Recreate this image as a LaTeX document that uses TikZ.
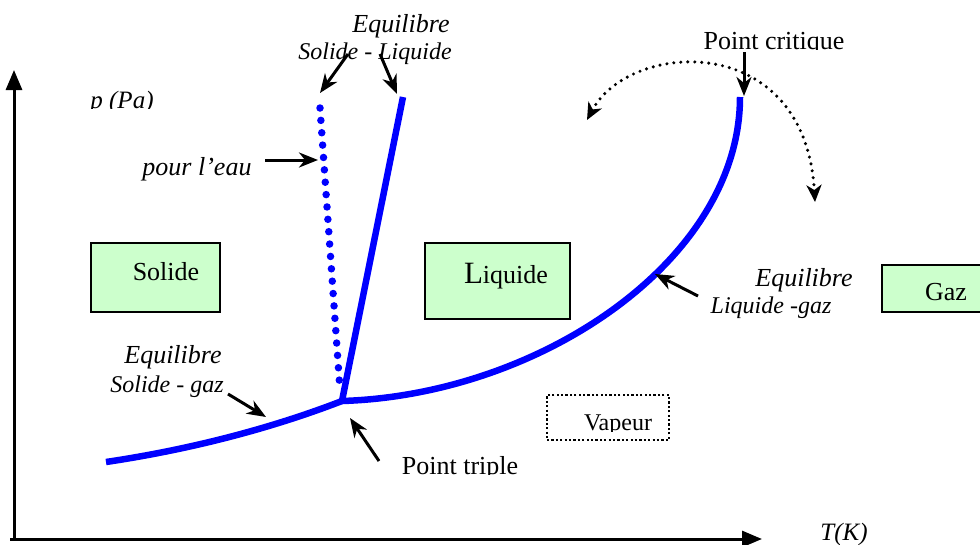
\documentclass[tikz,border=0pt]{standalone}
\usepackage{fontspec}
\setmainfont{Liberation Serif}
\usetikzlibrary{arrows.meta}
\definecolor{phasegreen}{HTML}{CCFFCC}
\definecolor{curveblue}{HTML}{0000FF}
\begin{document}
\begin{tikzpicture}[x=1pt,y=-1pt,
  phase/.style={draw, line width=2.4pt, fill=phasegreen, inner sep=0pt},
  lbl/.style={anchor=base, inner sep=0pt, font=\fontsize{26}{30}\selectfont},
  ilbl/.style={anchor=base, inner sep=0pt, font=\fontsize{26}{30}\selectfont\itshape},
  islbl/.style={anchor=base, inner sep=0pt, font=\fontsize{24}{28}\selectfont\itshape},
  curve/.style={draw=curveblue, line width=6.5pt},
  pointer/.style={-{Stealth[length=19pt,width=15pt,inset=6pt]}, line width=3pt},
  axis/.style={-{Triangle[length=20pt,width=16pt]}, line width=3pt},
  dotarc/.style={line width=3.4pt, line cap=round, dash pattern=on 0pt off 7pt},
]
\useasboundingbox (0,0) rectangle (980,544);
\clip (0,0) rectangle (980,544);

% axes
\coordinate (O) at (14,539);
\coordinate (Ytop) at (14,70);
\coordinate (Xend) at (762,539);
\draw[axis] (O) -- (Ytop);
\draw[axis] (10,539) -- (Xend);

% phase boxes
\node[phase, minimum width=129pt, minimum height=69pt] (solbox) at (155.5,277.5) {};
\node[lbl] (sol) at (166,280) {Solide};
\node[phase, minimum width=145pt, minimum height=76pt] (liqbox) at (497.5,281) {};
\node[lbl] (liq) at (506,283) {{\fontsize{31}{34}\selectfont L}iquide};
\node[phase, minimum width=130pt, minimum height=47pt] (gazbox) at (947,288.5) {};
\node[lbl] (gaz) at (946,300) {Gaz};
\node[draw, line width=2.4pt, dash pattern=on 2.2pt off 2.2pt, minimum width=122pt, minimum height=45pt] (vapbox) at (608,417.5) {};
\begin{scope}
  \clip (540,380) rectangle (680,431);
  \node[lbl, font=\fontsize{24}{28}\selectfont] (vap) at (618,430) {Vapeur};
\end{scope}

% key points
\coordinate (T) at (342,401);
\coordinate (C) at (740,97);
\coordinate (SGstart) at (106,462);
\coordinate (SLtop) at (403,97);
\coordinate (Wtop) at (320,108);
\coordinate (Wbot) at (340,390);

% curves
\draw[curve] (SGstart) .. controls (200,448) and (280,425) .. (T);
\draw[curve] (T) .. controls (540,395) and (740,260) .. (C);
\draw[curve] (T) -- (SLtop);
\draw[draw=curveblue, line width=7.5pt, line cap=round, dash pattern=on 0pt off 12.4pt] (Wtop) -- (Wbot);

% labels
\node[ilbl] (eqsl1) at (401,32) {Equilibre};
\node[islbl] (eqsl2) at (375,59) {Solide - Liquide};
\begin{scope}
  \clip (60,80) rectangle (200,108);
  \node[ilbl, font=\fontsize{25}{28}\selectfont\itshape] (pa) at (122,108) {p (Pa)};
\end{scope}
\node[ilbl] (eau) at (197,175) {pour l’eau};
\begin{scope}
  \clip (680,20) rectangle (870,49);
  \node[lbl] (pc) at (774,49) {Point critique};
\end{scope}
\node[ilbl] (eqlg1) at (804,286) {Equilibre};
\node[islbl] (eqlg2) at (771,313) {Liquide -gaz};
\node[ilbl] (eqsg1) at (173,363) {Equilibre};
\node[islbl] (eqsg2) at (167,392) {Solide - gaz};
\begin{scope}
  \clip (380,440) rectangle (540,474);
  \node[lbl] (pt) at (460,474) {Point triple};
\end{scope}
\node[ilbl, font=\fontsize{25}{28}\selectfont\itshape] (tk) at (844,540) {T(K)};

% pointer arrows
\coordinate (a1s) at (348,54);  \coordinate (a1e) at (320,93);
\coordinate (a2s) at (380,54);  \coordinate (a2e) at (397,94);
\coordinate (a3s) at (265,160); \coordinate (a3e) at (318,160);
\coordinate (a4s) at (744,52);  \coordinate (a4e) at (744,96);
\coordinate (a5s) at (698,296); \coordinate (a5e) at (655,274);
\coordinate (a6s) at (228,394); \coordinate (a6e) at (266,417);
\coordinate (a7s) at (379,461); \coordinate (a7e) at (350,418);
\draw[pointer] (a1s) -- (a1e);
\draw[pointer] (a2s) -- (a2e);
\draw[pointer] (a3s) -- (a3e);
\draw[pointer] (a4s) -- (a4e);
\draw[pointer] (a5s) -- (a5e);
\draw[pointer] (a6s) -- (a6e);
\draw[pointer] (a7s) -- (a7e);

% dotted double arc around the critical point
\coordinate (arcL) at (587,120);
\coordinate (arcR) at (815,202);
\draw[dotarc, {Stealth[length=17pt,width=15pt,inset=5pt,line cap=butt,sep=0pt]}-{Stealth[length=17pt,width=15pt,inset=5pt]}] (arcL) .. controls (630,40) and (805,30) .. (arcR);
\end{tikzpicture}
\end{document}
